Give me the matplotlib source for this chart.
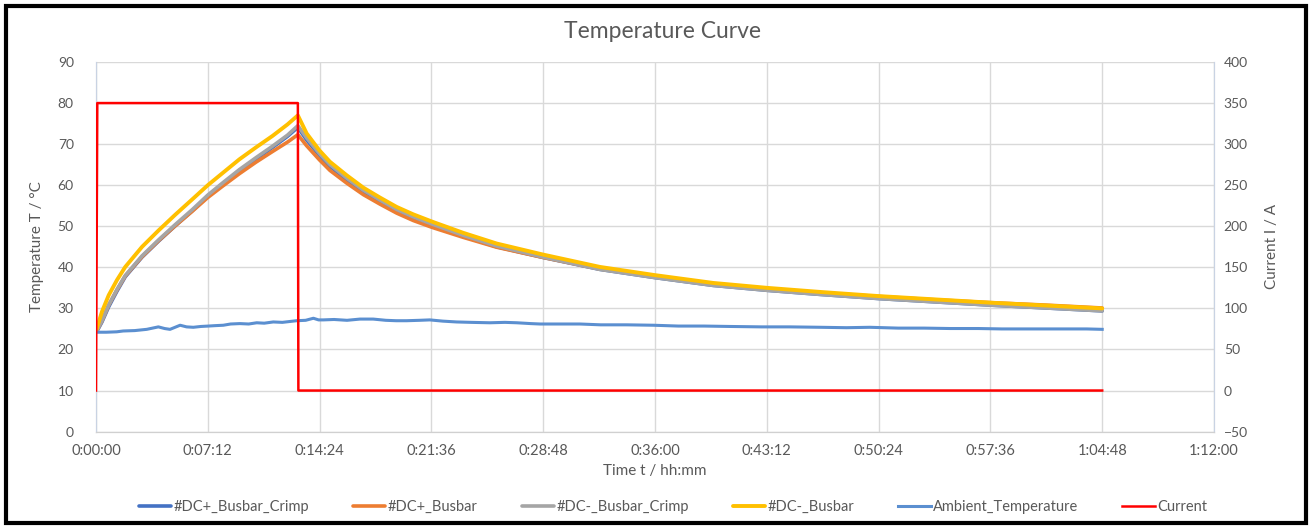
import matplotlib
matplotlib.use("Agg")
import matplotlib.pyplot as plt
from matplotlib.ticker import FuncFormatter, MultipleLocator
from matplotlib.patches import Rectangle

# ---------------- data ----------------
time_s = [0, 5, 23, 49, 81, 113, 178, 242, 306, 371, 432, 490, 554, 618, 682, 740, 780,
          814, 863, 904, 969, 1033, 1097, 1162, 1226, 1300, 1419, 1548, 1728, 1947, 2160,
          2385, 2594, 2800, 3024, 3240, 3456, 3672, 3888]

dc_plus_busbar_crimp = [24.3, 24.6, 26.7, 30.4, 34.2, 37.7, 42.5, 46.4, 50.1, 53.7, 57.3, 60.3,
                        63.5, 66.4, 69.2, 71.9, 74.1,
                        71.0, 67.3, 64.6, 61.3, 58.5, 56.1, 53.8, 52.0, 50.2, 47.6, 45.0, 42.4,
                        39.5, 37.5, 35.6, 34.4, 33.4, 32.4, 31.6, 30.8, 30.1, 29.4]
dc_plus_busbar = [24.5, 24.8, 27.0, 30.8, 34.5, 37.9, 42.6, 46.5, 50.1, 53.6, 57.0, 59.8,
                  62.8, 65.6, 68.2, 70.5, 72.3,
                  69.6, 66.2, 63.6, 60.5, 57.7, 55.4, 53.2, 51.4, 49.7, 47.3, 44.9, 42.4,
                  39.6, 37.7, 35.9, 34.8, 33.8, 32.9, 32.1, 31.4, 30.8, 30.1]
dc_minus_busbar_crimp = [24.5, 24.8, 27.0, 30.8, 34.6, 38.0, 42.8, 46.7, 50.4, 54.0, 57.6, 60.6,
                         63.8, 66.7, 69.5, 72.2, 74.5,
                         71.5, 67.7, 65.0, 61.7, 58.8, 56.4, 54.1, 52.3, 50.5, 47.8, 45.2, 42.5,
                         39.5, 37.5, 35.6, 34.4, 33.4, 32.4, 31.6, 30.8, 30.1, 29.4]
dc_minus_busbar = [24.5, 25.5, 29.2, 33.2, 36.9, 40.1, 45.0, 49.0, 52.8, 56.5, 60.0, 63.0,
                   66.3, 69.2, 72.0, 74.8, 77.0,
                   72.6, 68.5, 65.7, 62.4, 59.4, 57.0, 54.7, 52.9, 51.1, 48.4, 45.8, 43.1,
                   40.1, 38.1, 36.2, 35.0, 34.0, 33.0, 32.2, 31.4, 30.7, 30.0]

ambient_time_s = [0, 40, 80, 105, 150, 196, 241, 265, 286, 325, 350, 376, 405, 434, 460, 492,
                  520, 556, 590, 621, 650, 685, 720, 775, 810, 840, 860, 878, 920, 970, 1020,
                  1071, 1120, 1160, 1200, 1250, 1290, 1340, 1393, 1450, 1522, 1580, 1626, 1680,
                  1716, 1800, 1870, 1950, 2050, 2154, 2250, 2350, 2450, 2572, 2680, 2800, 2900,
                  2990, 3100, 3200, 3300, 3409, 3500, 3600, 3700, 3828, 3888]
ambient_temperature = [24.2, 24.2, 24.3, 24.5, 24.6, 24.9, 25.5, 25.1, 24.9, 25.9, 25.5, 25.4,
                       25.6, 25.7, 25.8, 25.9, 26.2, 26.3, 26.2, 26.5, 26.4, 26.7, 26.6, 27.0,
                       27.1, 27.6, 27.2, 27.2, 27.3, 27.1, 27.4, 27.4, 27.1, 27.0, 27.0, 27.1,
                       27.2, 26.9, 26.7, 26.6, 26.5, 26.6, 26.5, 26.3, 26.2, 26.2, 26.2, 26.0,
                       26.0, 25.9, 25.7, 25.7, 25.6, 25.5, 25.5, 25.4, 25.3, 25.4, 25.2, 25.2,
                       25.1, 25.1, 25.0, 25.0, 25.0, 25.0, 24.9]

current_time_s = [0, 5, 780, 782, 3888]
current_a = [0, 350, 350, 0, 0]

series_names = ["#DC+_Busbar_Crimp", "#DC+_Busbar", "#DC-_Busbar_Crimp", "#DC-_Busbar",
                "Ambient_Temperature", "Current"]
colors = ["#4472C4", "#ED7D31", "#A5A5A5", "#FFC000", "#5B8FD0", "#FF0000"]

# ---------------- plot ----------------
plt.rcParams["font.family"] = ["Lato", "DejaVu Sans"]
W, H = 1312, 529
fig = plt.figure(figsize=(W / 100, H / 100), dpi=100)
fig.patch.set_facecolor("white")
ax = fig.add_axes([96 / W, 1 - 431.6 / H, (1214 - 96) / W, (431.6 - 62) / H])
ax2 = ax.twinx()

txt = "#595959"
grid = "#D9D9D9"

temps = [dc_plus_busbar_crimp, dc_plus_busbar, dc_minus_busbar_crimp, dc_minus_busbar]
widths = [2.6, 2.6, 2.6, 2.8]
lines = []
for vals, c, n, lw in zip(temps, colors[:4], series_names[:4], widths):
    l, = ax.plot(time_s, vals, color=c, lw=lw, label=n, solid_capstyle="round", zorder=3)
    lines.append(l)
l, = ax.plot(ambient_time_s, ambient_temperature, color=colors[4], lw=2.2,
             label=series_names[4], zorder=3)
lines.append(l)
l, = ax2.plot(current_time_s, current_a, color=colors[5], lw=1.8, label=series_names[5], zorder=4)
lines.append(l)

ax.set_xlim(0, 4320)
ax.set_ylim(0, 90)
ax2.set_ylim(-50, 400)
ax.xaxis.set_major_locator(MultipleLocator(432))
ax.yaxis.set_major_locator(MultipleLocator(10))
ax2.yaxis.set_major_locator(MultipleLocator(50))


def hms(v, pos):
    v = int(round(v))
    return f"{v // 3600}:{(v % 3600) // 60:02d}:{v % 60:02d}"


ax.xaxis.set_major_formatter(FuncFormatter(hms))
ax.grid(True, color=grid, lw=1.0, zorder=0)
ax.set_axisbelow(True)
for a in (ax, ax2):
    a.spines["top"].set_visible(False)
    a.spines["left"].set_color("#C9D3E3")
    a.spines["right"].set_color("#C9D3E3")
    a.spines["bottom"].set_color("#D0D0D0")
    a.tick_params(length=0, colors=txt, labelsize=10)
ax.tick_params(axis="x", pad=9, labelsize=10.5)
ax.tick_params(axis="y", pad=16)
ax2.tick_params(axis="y", pad=7)
ax.set_zorder(ax2.get_zorder() + 1)
ax.patch.set_visible(False)
ax2.set_zorder(1)

ax.set_xlabel("Time t / hh:mm", color=txt, fontsize=11, labelpad=4)
ax.set_ylabel("Temperature T / °C", color=txt, fontsize=11, labelpad=10)
ax2.set_ylabel("Current I / A", color=txt, fontsize=11, labelpad=12)

fig.text(0.505, 1 - 32 / H, "Temperature Curve", ha="center", va="center",
         fontsize=16.5, color=txt)

leg = fig.legend(handles=lines, labels=series_names, loc="center", ncol=6,
                 bbox_to_anchor=(0.513, 1 - 507 / H), frameon=False,
                 prop={"size": 10.5}, handlelength=2.2,
                 columnspacing=3.0, handletextpad=0.2)
for t in leg.get_texts():
    t.set_color(txt)

fig.patches.append(Rectangle((6 / W, 6 / H), (W - 12) / W, (H - 12) / H,
                             transform=fig.transFigure, fill=False, lw=3, ec="black"))

fig.savefig("out.png", dpi=100)
